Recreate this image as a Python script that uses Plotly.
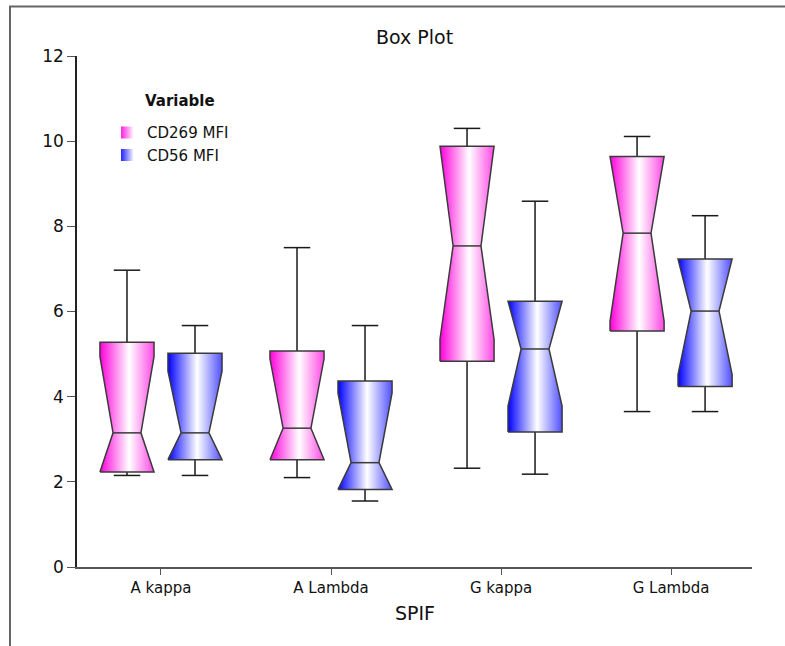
import plotly.graph_objects as go

# ---------------- data ----------------
categories = ["A kappa", "A Lambda", "G kappa", "G Lambda"]
series_names = ["CD269 MFI", "CD56 MFI"]

cd269_upper = [6.97, 7.50, 10.30, 10.11]
cd269_q3 = [5.28, 5.07, 9.88, 9.64]
cd269_notch_hi = [4.94, 4.89, 9.88, 9.64]
cd269_median = [3.15, 3.26, 7.54, 7.84]
cd269_notch_lo = [2.23, 2.52, 5.35, 5.77]
cd269_q1 = [2.23, 2.52, 4.83, 5.54]
cd269_lower = [2.15, 2.10, 2.32, 3.65]

cd56_upper = [5.67, 5.67, 8.59, 8.25]
cd56_q3 = [5.02, 4.37, 6.24, 7.23]
cd56_notch_hi = [4.60, 4.09, 6.24, 7.23]
cd56_median = [3.15, 2.45, 5.12, 6.01]
cd56_notch_lo = [2.52, 1.82, 3.78, 4.52]
cd56_q1 = [2.52, 1.82, 3.17, 4.24]
cd56_lower = [2.15, 1.55, 2.18, 3.65]

y_ticks = [0, 2, 4, 6, 8, 10, 12]

# ---------------- styling ----------------
FONT = "DejaVu Sans"
OFFSETS = [-0.2, 0.2]
HALF_W = 0.159
NOTCH_HALF_W = 0.082
CAP_HALF_W = 0.078
OUTLINE = "#3a3a3a"
WHISKER = "#1a1a1a"
SCALES = [
    [[0, "#ff00dc"], [0.54, "#ffffff"], [1, "#ff48e6"]],
    [[0, "#0000ff"], [0.54, "#ffffff"], [1, "#5050ff"]],
]
LEGEND_COLORS = [("#ff1ee2", "#fff0fc"), ("#2020ff", "#eeeeff")]

stats = [
    dict(up=cd269_upper, q3=cd269_q3, nh=cd269_notch_hi, med=cd269_median,
         nl=cd269_notch_lo, q1=cd269_q1, lo=cd269_lower),
    dict(up=cd56_upper, q3=cd56_q3, nh=cd56_notch_hi, med=cd56_median,
         nl=cd56_notch_lo, q1=cd56_q1, lo=cd56_lower),
]

fig = go.Figure()

for s_idx, st in enumerate(stats):
    off = OFFSETS[s_idx]
    # whiskers and caps
    wx, wy = [], []
    for i in range(len(categories)):
        c = i + off
        wx += [c, c, None, c, c, None]
        wy += [st["q3"][i], st["up"][i], None, st["q1"][i], st["lo"][i], None]
        wx += [c - CAP_HALF_W, c + CAP_HALF_W, None, c - CAP_HALF_W, c + CAP_HALF_W, None]
        wy += [st["up"][i], st["up"][i], None, st["lo"][i], st["lo"][i], None]
    fig.add_trace(go.Scatter(x=wx, y=wy, mode="lines",
                             line=dict(color=WHISKER, width=1.5),
                             showlegend=False, hoverinfo="skip"))

for s_idx, st in enumerate(stats):
    off = OFFSETS[s_idx]
    for i in range(len(categories)):
        c = i + off
        x0, x1 = c - HALF_W, c + HALF_W
        n0, n1 = c - NOTCH_HALF_W, c + NOTCH_HALF_W
        px = [x0, x0, n0, x0, x0, x1, x1, n1, x1, x1, x0]
        py = [st["q1"][i], st["nl"][i], st["med"][i], st["nh"][i], st["q3"][i],
              st["q3"][i], st["nh"][i], st["med"][i], st["nl"][i], st["q1"][i], st["q1"][i]]
        fig.add_trace(go.Scatter(
            x=px, y=py, mode="lines", fill="toself",
            fillgradient=dict(type="horizontal", colorscale=SCALES[s_idx]),
            line=dict(color=OUTLINE, width=1.5),
            showlegend=False, hoverinfo="skip"))
    # medians
    mx, my = [], []
    for i in range(len(categories)):
        c = i + off
        mx += [c - NOTCH_HALF_W, c + NOTCH_HALF_W, None]
        my += [st["med"][i], st["med"][i], None]
    fig.add_trace(go.Scatter(x=mx, y=my, mode="lines",
                             line=dict(color=OUTLINE, width=1.5),
                             showlegend=False, hoverinfo="skip"))

# legend entries
for s_idx, name in enumerate(series_names):
    c0, c1 = LEGEND_COLORS[s_idx]
    fig.add_trace(go.Scatter(
        x=[None], y=[None], mode="markers", name=name,
        marker=dict(symbol="square", size=12, color=c0,
                    gradient=dict(type="horizontal", color=c1),
                    line=dict(width=0)),
        showlegend=True))

fig.update_layout(
    width=785, height=646,
    margin=dict(l=77, r=33, t=56, b=79),
    paper_bgcolor="white", plot_bgcolor="white",
    font=dict(family=FONT, color="#111111"),
    title=dict(text="Box Plot", x=0.5, xref="paper", xanchor="center",
               y=1 - 37 / 646, yanchor="middle",
               font=dict(family=FONT, size=19, color="#111111")),
    showlegend=True,
    legend=dict(x=0.0445, y=0.882, xanchor="left", yanchor="top",
                bgcolor="rgba(0,0,0,0)", borderwidth=0,
                font=dict(family=FONT, size=15, color="#111111")),
    hovermode=False,
    xaxis=dict(range=[-0.494, 3.476], tickmode="array",
               tickvals=list(range(len(categories))), ticktext=categories,
               showline=True, linecolor="#555555", linewidth=1.5,
               ticks="outside", ticklen=6, tickwidth=1.2, tickcolor="#555555",
               showgrid=False, zeroline=False,
               tickfont=dict(family=FONT, size=15, color="#111111")),
    yaxis=dict(range=[0, 12], tickmode="array", tickvals=y_ticks,
               showline=True, linecolor="#222222", linewidth=1.5,
               ticks="outside", ticklen=8, tickwidth=1.2, tickcolor="#555555",
               showgrid=False, zeroline=False,
               tickfont=dict(family=FONT, size=17, color="#111111")),
    annotations=[
        dict(text="SPIF", xref="paper", yref="paper", x=0.5, y=(567 - 613) / 511,
             xanchor="center", yanchor="middle", showarrow=False,
             font=dict(family=FONT, size=19, color="#111111")),
        dict(text="<b>Variable</b>", xref="paper", yref="paper",
             x=(180 - 77) / 675, y=(567 - 101) / 511,
             xanchor="center", yanchor="middle", showarrow=False,
             font=dict(family=FONT, size=15, color="#111111")),
    ],
    shapes=[
        dict(type="rect", xref="paper", yref="paper",
             x0=(10 - 77) / 675, x1=1.2, y0=-0.3, y1=(567 - 6.5) / 511,
             line=dict(color="#666666", width=2), fillcolor="rgba(0,0,0,0)",
             layer="below"),
    ],
)

fig.write_html("out.html", config={"displayModeBar": False},
               post_script="document.body.style.margin='0';")
